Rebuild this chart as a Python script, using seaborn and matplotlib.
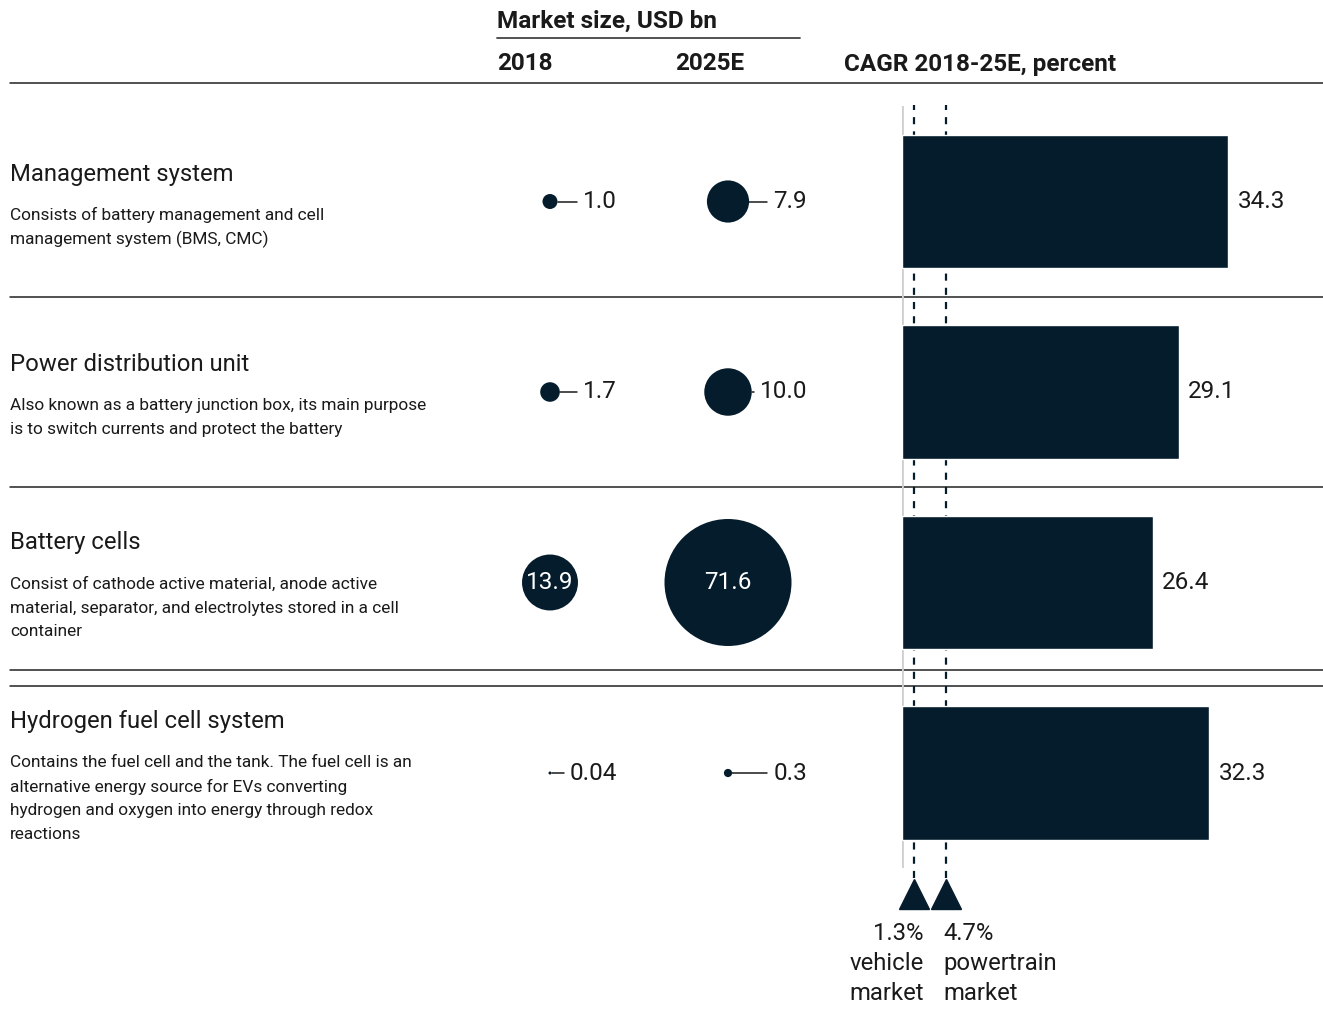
import matplotlib
matplotlib.use("Agg")
import matplotlib.pyplot as plt
import seaborn as sns
import pandas as pd
import numpy as np

# ---- data -------------------------------------------------------------
segments = ["Management system", "Power distribution unit",
            "Battery cells", "Hydrogen fuel cell system"]
descriptions = [
    ["Consists of battery management and cell",
     "management system (BMS, CMC)"],
    ["Also known as a battery junction box, its main purpose",
     "is to switch currents and protect the battery"],
    ["Consist of cathode active material, anode active",
     "material, separator, and electrolytes stored in a cell",
     "container"],
    ["Contains the fuel cell and the tank. The fuel cell is an",
     "alternative energy source for EVs converting",
     "hydrogen and oxygen into energy through redox",
     "reactions"],
]
years = ["2018", "2025E"]
market_2018 = [1.0, 1.7, 13.9, 0.04]
market_2025 = [7.9, 10.0, 71.6, 0.3]
market_2018_labels = ["1.0", "1.7", "13.9", "0.04"]
market_2025_labels = ["7.9", "10.0", "71.6", "0.3"]
cagr = [34.3, 29.1, 26.4, 32.3]
benchmark_cagr = [1.3, 4.7]
benchmark_labels = [["1.3%", "vehicle", "market"],
                    ["4.7%", "powertrain", "market"]]

# ---- style ------------------------------------------------------------
NAVY = "#051c2c"
INK = "#1a1a1a"
sns.set_style("white")
plt.rcParams["font.family"] = ["Roboto", "DejaVu Sans"]
NUM_FS = 17.5
NUM_W = "normal"

W, H = 1323, 1034
fig = plt.figure(figsize=(W / 100, H / 100), dpi=100)


def px_axes(x0, y0, x1, y1, z=1):
    ax = fig.add_axes([x0 / W, 1 - y1 / H, (x1 - x0) / W, (y1 - y0) / H])
    ax.set_zorder(z)
    ax.patch.set_visible(False)
    return ax


# overlay in pixel units (y downwards) for rules and text
ov = px_axes(0, 0, W, H, z=0)
ov.set_xlim(0, W)
ov.set_ylim(H, 0)
ov.axis("off")

# row geometry shared by bubble and bar panels
ROW0, ROWSTEP = 201.5, 190.5
PANEL_TOP, PANEL_BOT = 106, 868
ylim = ((PANEL_BOT - ROW0) / ROWSTEP, (PANEL_TOP - ROW0) / ROWSTEP)


def row_px(i):
    return ROW0 + ROWSTEP * i


# ---- header ----------------------------------------------------------
HEAD_FS = 17.5
ov.text(497, 21, "Market size, USD bn", fontsize=HEAD_FS, fontweight="bold",
        color=INK, va="center", ha="left")
ov.plot([497, 800], [38, 38], color="#444444", lw=1.3)
ov.text(497, 64, years[0], fontsize=HEAD_FS, fontweight="bold", color=INK,
        va="center")
ov.text(675, 64, years[1], fontsize=HEAD_FS, fontweight="bold", color=INK,
        va="center")
ov.text(844, 64, "CAGR 2018-25E, percent", fontsize=HEAD_FS,
        fontweight="bold", color=INK, va="center")
for y in [83, 297, 487, 670, 686]:
    ov.plot([10, W], [y, y], color="#222222", lw=1.1)

# ---- segment names and descriptions ----------------------------------
GAP_TITLE, LINE = 41, 24
for i, (name, desc) in enumerate(zip(segments, descriptions)):
    block = GAP_TITLE + (len(desc) - 1) * LINE
    ty = row_px(i) - block / 2 + 5
    ov.text(10, ty, name, fontsize=17.2, color=INK, va="center")
    for j, line in enumerate(desc):
        ov.text(10, ty + GAP_TITLE + j * LINE, line, fontsize=12.4,
                color=INK, va="center")

# ---- bubbles: market size --------------------------------------------
bx = px_axes(450, PANEL_TOP, 850, PANEL_BOT)
COL0, COLSTEP = 550, 178
bx.set_xlim((450 - COL0) / COLSTEP, (850 - COL0) / COLSTEP)
bx.set_ylim(*ylim)
bx.axis("off")

bub = pd.DataFrame({
    "col": [0] * 4 + [1] * 4,
    "row": list(range(4)) * 2,
    "value": market_2018 + market_2025,
    "label": market_2018_labels + market_2025_labels,
})
MAXV = max(market_2025)
S_MAX = (127 * 0.72) ** 2  # marker area (pt^2) of the largest bubble
sns.scatterplot(data=bub, x="col", y="row", size="value",
                sizes=(0, S_MAX), size_norm=(0, MAXV), color=NAVY,
                linewidth=0, legend=False, ax=bx, clip_on=False)
bx.set_xlim((450 - COL0) / COLSTEP, (850 - COL0) / COLSTEP)
bx.set_ylim(*ylim)

LABEL_RIGHT = [617, 807]
fig.canvas.draw()
renderer = fig.canvas.get_renderer()
for _, r in bub.iterrows():
    cx, cy_disp = bx.transData.transform((r["col"], r["row"]))
    cy = H - cy_disp
    radius = np.sqrt(S_MAX * r["value"] / MAXV) / 0.72 / 2
    if r["value"] > 12:
        bx.text(r["col"], r["row"], r["label"], color="white",
                fontsize=NUM_FS, fontweight=NUM_W, ha="center", va="center")
    else:
        t = ov.text(LABEL_RIGHT[int(r["col"])], cy, r["label"],
                    fontsize=NUM_FS, fontweight=NUM_W, color=INK,
                    ha="right", va="center")
        x_left = t.get_window_extent(renderer=renderer).x0
        ov.plot([cx + radius, x_left - 6], [cy, cy], color=INK, lw=1.1)

# ---- bars: CAGR -------------------------------------------------------
PX_PER_PCT = 9.52
X0 = 901.5
ax = px_axes(X0, PANEL_TOP, W, PANEL_BOT, z=2)
bars = pd.DataFrame({"segment": segments, "cagr": cagr})
sns.barplot(data=bars, x="cagr", y="segment", orient="h", color=NAVY,
            saturation=1, width=0.703, errorbar=None, ax=ax, zorder=3)
ax.set_xlim(0, (W - X0) / PX_PER_PCT)
ax.set_ylim(*ylim)
ax.axis("off")
ax.axvline(0, color="#cfcfcf", lw=2, zorder=1)
for v in benchmark_cagr:
    ax.axvline(v, ymin=-0.013, ymax=1.001, color=NAVY, lw=1.6,
               ls=(0, (3.2, 3.2)), zorder=2, clip_on=False)
for i, v in enumerate(cagr):
    ax.text(v + 1.0, i, f"{v:.1f}", fontsize=NUM_FS, fontweight=NUM_W,
            color=INK, ha="left", va="center")

tri_y = (893.5 - ROW0) / ROWSTEP
ax.plot(benchmark_cagr, [tri_y] * len(benchmark_cagr), ls="none",
        marker="^", ms=22, color=NAVY, clip_on=False)

bm_px = [ax.transData.transform((v, 0))[0] for v in benchmark_cagr]
for k, lines in enumerate(benchmark_labels):
    if k == 0:
        x, ha = bm_px[0] + 10, "right"
    else:
        x, ha = bm_px[1] - 3, "left"
    for j, line in enumerate(lines):
        ov.text(x, 933 + 30.5 * j, line, fontsize=17.2, fontweight=NUM_W,
                color=INK, ha=ha, va="center")

fig.savefig("out.png", dpi=100)
